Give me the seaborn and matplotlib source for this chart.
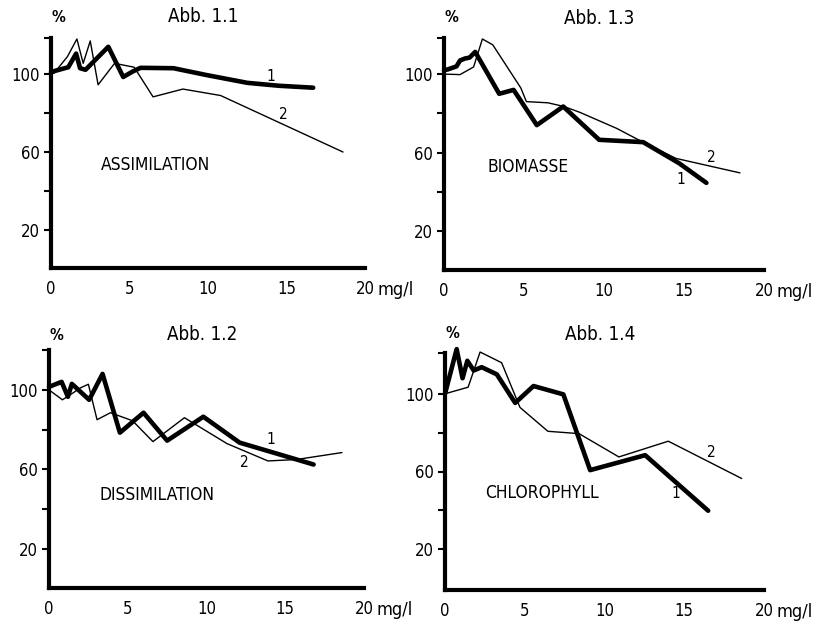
import matplotlib
matplotlib.use("Agg")
import matplotlib.pyplot as plt
import pandas as pd
import seaborn as sns

# ---------------- data ----------------
titles = ["Abb. 1.1", "Abb. 1.3", "Abb. 1.2", "Abb. 1.4"]
names = ["ASSIMILATION", "BIOMASSE", "DISSIMILATION", "CHLOROPHYLL"]
x_ticks = [0, 5, 10, 15, 20]
x_ticklabels = ["0", "5", "10", "15", "20"]
y_ticks = [20, 60, 100]
y_minor = [40, 80]
unit_label = "mg/l"

# Abb. 1.1 ASSIMILATION
assim_x1 = [0, 0.2, 1.1, 1.6, 1.85, 2.2, 3.65, 4.6, 5.2, 5.7, 7.8, 9.9, 12.5, 14.5, 16.7]
assim_y1 = [101, 101.5, 103.5, 110.5, 103, 102.2, 114, 98.5, 101.3, 103.2, 103, 99.5, 95.5, 94, 93]
assim_x2 = [0, 0.2, 1.05, 1.65, 2.05, 2.5, 3.0, 4.05, 5.3, 6.5, 8.4, 10.8, 18.6]
assim_y2 = [100, 100.5, 109, 118, 105.5, 117, 94.5, 105.5, 103.5, 88.3, 92.3, 89, 60]

# Abb. 1.3 BIOMASSE
bio_x1 = [0, 0.25, 0.78, 1.0, 1.3, 1.6, 1.95, 3.45, 4.35, 5.8, 7.45, 9.7, 12.45, 14.7, 16.4]
bio_y1 = [102, 102.5, 104, 107, 108, 108.5, 111.4, 90, 92, 74, 83.5, 66.5, 65.3, 54.5, 44.5]
bio_x2 = [0, 0.25, 1.0, 1.85, 2.4, 3.05, 4.8, 5.15, 6.5, 7.5, 8.5, 10.8, 12.2, 14.5, 18.5]
bio_y2 = [100, 100, 99.8, 103.7, 118, 115, 93, 86, 85.4, 83.5, 80.5, 72.3, 66.3, 57, 49.6]

# Abb. 1.2 DISSIMILATION
dis_x1 = [0, 0.8, 1.2, 1.45, 2.55, 3.4, 4.5, 6.0, 7.5, 9.8, 12.1, 16.8]
dis_y1 = [101.5, 104, 96.5, 103, 95, 108, 78.5, 88.5, 74.5, 86.5, 73.5, 62.5]
dis_x2 = [0, 0.85, 1.35, 2.0, 2.5, 3.05, 3.9, 5.3, 6.6, 8.6, 11.3, 13.9, 15.7, 18.6]
dis_y2 = [100, 95, 97.5, 101, 102.8, 85, 88.5, 84.5, 74, 86, 73, 64.3, 65, 68.5]

# Abb. 1.4 CHLOROPHYLL
chl_x1 = [0, 0.73, 1.1, 1.4, 1.8, 2.3, 3.25, 4.4, 5.55, 7.42, 9.1, 12.55, 16.5]
chl_y1 = [100, 123, 108, 117, 112, 113.7, 110, 95.3, 104, 99.7, 60.7, 68.4, 39.8]
chl_x2 = [0, 1.45, 2.2, 3.55, 4.7, 6.45, 8.4, 10.9, 14.0, 18.6]
chl_y2 = [100, 103.4, 121.5, 116, 93, 80.7, 79.5, 67.5, 75.6, 56.4]

series = [
    (assim_x1, assim_y1, assim_x2, assim_y2),
    (bio_x1, bio_y1, bio_x2, bio_y2),
    (dis_x1, dis_y1, dis_x2, dis_y2),
    (chl_x1, chl_y1, chl_x2, chl_y2),
]
# positions of the curve labels "1" and "2" (data coords)
label1_pos = [(14.0, 99.0), (14.8, 46.0), (14.1, 75.0), (14.5, 48.5)]
label2_pos = [(14.8, 79.0), (16.7, 57.5), (12.4, 63.5), (16.7, 70.0)]
name_pos = [(3.2, 53.5), (2.7, 52.5), (3.2, 47.0), (2.5, 49.0)]

# ---------------- layout ----------------
W, H = 820, 621
# (left, top, right, bottom) in pixels
rects = [(51, 38, 365, 268), (444, 38, 764, 270), (49, 350, 364, 588), (445, 353, 764, 590)]
ylims = [(0.5, 118.5), (0.0, 118.5), (0.5, 120.0), (-1.0, 121.0)]
title_off = [21, 20, 15, 19]

sns.set_theme(style="white")
plt.rcParams['font.family'] = ['DejaVu Sans']
plt.rcParams['font.stretch'] = 'condensed'

fig = plt.figure(figsize=(W / 100, H / 100), dpi=100)
fs = 12.0

for i in range(4):
    l, t, r, b = rects[i]
    ax = fig.add_axes([l / W, 1 - b / H, (r - l) / W, (b - t) / H])
    x1, y1, x2, y2 = series[i]
    d1 = pd.DataFrame({"x": x1, "y": y1})
    d2 = pd.DataFrame({"x": x2, "y": y2})
    sns.lineplot(data=d2, x="x", y="y", ax=ax, color="black", lw=1.0,
                 sort=False, estimator=None, clip_on=False)
    sns.lineplot(data=d1, x="x", y="y", ax=ax, color="black", lw=3.3,
                 sort=False, estimator=None, solid_joinstyle="round",
                 solid_capstyle="round", clip_on=False)
    ax.set_xlim(0, 20)
    ax.set_ylim(*ylims[i])
    ax.set_xlabel("")
    ax.set_ylabel("")
    for s in ["top", "right"]:
        ax.spines[s].set_visible(False)
    for s in ["left", "bottom"]:
        ax.spines[s].set_visible(True)
        ax.spines[s].set_color("black")
        ax.spines[s].set_linewidth(3.0)
        ax.spines[s].set_capstyle("projecting")
    ax.set_xticks(x_ticks)
    ax.set_xticklabels(x_ticklabels)
    ax.set_yticks(y_ticks)
    ax.set_yticklabels([str(v) for v in y_ticks])
    ax.set_yticks(y_minor + [ylims[i][1]], minor=True)
    ax.set_xticks([20], minor=True)
    ax.tick_params(axis="x", which="major", length=0, pad=9, labelsize=fs, colors="black")
    ax.tick_params(axis="x", which="minor", length=5, width=1.5, direction="inout", color="black")
    ax.tick_params(axis="y", which="both", length=5, width=1.5, direction="out",
                   color="black", left=True, pad=3, labelsize=fs, labelcolor="black")
    ax.grid(False)
    ax.set_facecolor("white")

    # panel name
    ax.text(name_pos[i][0], name_pos[i][1], names[i], fontsize=12.5,
            ha="left", va="center", color="black")
    # curve labels
    ax.text(*label1_pos[i], "1", fontsize=11, ha="center", va="center", color="black")
    ax.text(*label2_pos[i], "2", fontsize=11, ha="center", va="center", color="black")
    # title and % sign
    ax.annotate(titles[i], xy=(9.7, 1.0), xycoords=("data", "axes fraction"),
                xytext=(0, title_off[i]), textcoords="offset pixels",
                ha="center", va="center", fontsize=13.5, color="black")
    ax.annotate("%", xy=(0, 1.0), xycoords=("data", "axes fraction"),
                xytext=(1, title_off[i]), textcoords="offset pixels",
                ha="left", va="center", fontsize=11, color="black",
                fontweight="bold")
    # unit next to the last x tick label
    ax.annotate(unit_label, xy=(20, 0), xycoords=("data", "axes fraction"),
                xytext=(13, -22), textcoords="offset pixels",
                ha="left", va="center", fontsize=13, color="black")

fig.savefig("out.png", dpi=100, facecolor="white")
